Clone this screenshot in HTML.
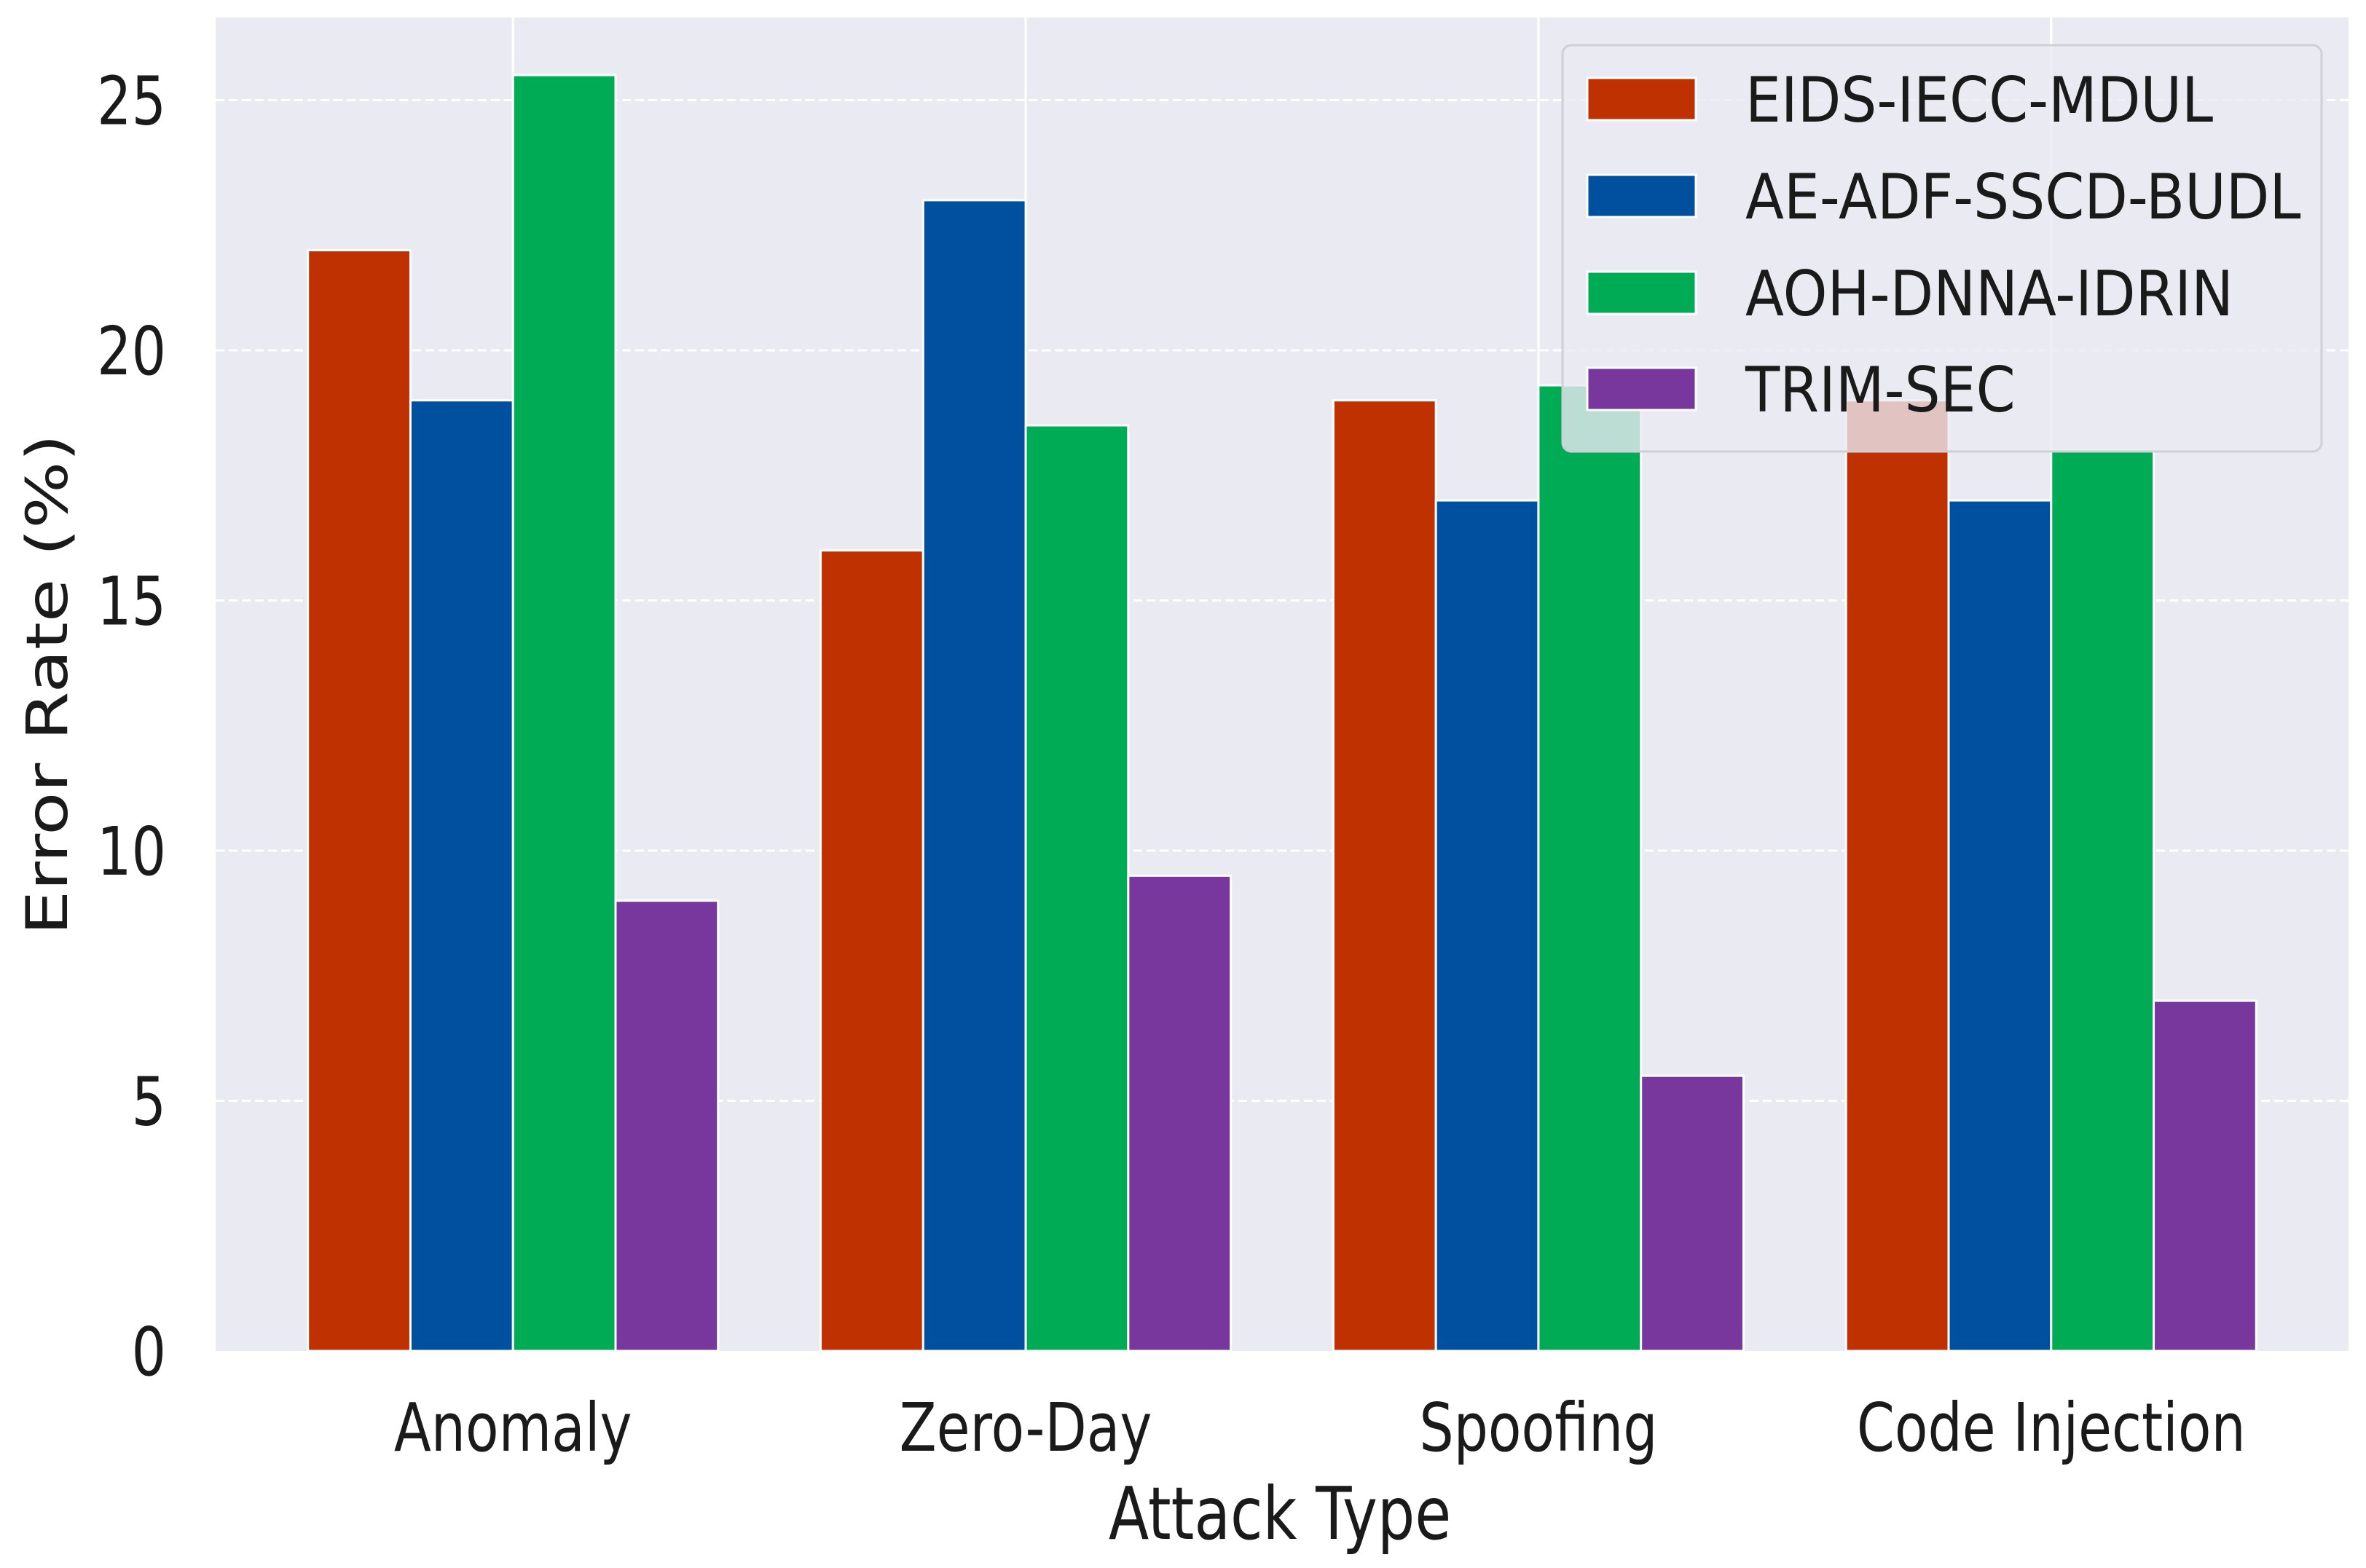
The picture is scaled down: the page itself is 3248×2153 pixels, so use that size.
<!DOCTYPE html>
<html><head><meta charset="utf-8"><style>
html,body{margin:0;padding:0;background:#fff;}
svg{display:block;}
text{font-family:"DejaVu Sans","Liberation Sans",sans-serif;fill:#1a1a1a;}
</style></head><body>
<svg id="chart" width="3248" height="2153" viewBox="0 0 3248 2153" xmlns="http://www.w3.org/2000/svg">
<rect x="296" y="24" width="2928" height="1831" fill="#eaeaf2"/>
<g id="grid"></g>
<g id="bars"></g>
<g id="ticks"></g>
<g id="legend"></g>
</svg>
<script>
const categories = ["Anomaly", "Zero-Day", "Spoofing", "Code Injection"];
const seriesNames = ["EIDS-IECC-MDUL", "AE-ADF-SSCD-BUDL", "AOH-DNNA-IDRIN", "TRIM-SEC"];
const eidsValues = [22, 16, 19, 19];
const aeValues = [19, 23, 17, 17];
const aohValues = [25.5, 18.5, 19.3, 18];
const trimValues = [9, 9.5, 5.5, 7];
const yTicks = [0, 5, 10, 15, 20, 25];
const colors = ["#bf3100", "#0050a0", "#00ab55", "#77379d"];
const allSeries = [eidsValues, aeValues, aohValues, trimValues];

const NS = "http://www.w3.org/2000/svg";
const X0 = 296, X1 = 3224, Y0 = 1855, PXU = 68.7;
const SX = 0.81;
const step = (X1 - X0) / (categories.length + 0.16);
function xCenter(i){ return X0 + step * (0.58 + i); }
function yPos(v){ return Y0 - v * PXU; }
function mk(tag, attrs, parent){ const e = document.createElementNS(NS, tag); for (const k in attrs) e.setAttribute(k, attrs[k]); parent.appendChild(e); return e; }
function txt(parent, s, x, y, size, anchor, rot, sx){
  const k = sx || SX;
  const g = mk("g", {transform: "translate(" + x + "," + y + ")" + (rot ? " rotate(" + rot + ")" : "") + (rot ? " scale(1," + k + ")" : " scale(" + k + ",1)")}, parent);
  const t = mk("text", {x: 0, y: 0, "font-size": size, "text-anchor": anchor}, g);
  t.textContent = s;
  return t;
}
const grid = document.getElementById("grid");
const bars = document.getElementById("bars");
const ticks = document.getElementById("ticks");
const legend = document.getElementById("legend");

yTicks.forEach(v => {
  if (v > 0) {
    const l = mk("line", {x1: X0, x2: X1, y1: yPos(v), y2: yPos(v), stroke: "#ffffff", "stroke-width": 3, "stroke-dasharray": "12,6"}, grid);
    
    
  }
  const t = txt(ticks, String(v), 228, yPos(v) + 33, 92, "end");
  
  
});
categories.forEach((c, i) => {
  const l = mk("line", {x1: xCenter(i), x2: xCenter(i), y1: 24, y2: Y0, stroke: "#ffffff", "stroke-width": 3}, grid);
  
  
  const t = txt(ticks, c, xCenter(i), 1992, 92, "middle");
  
  
});
const bw = step * 0.2;
allSeries.forEach((vals, s) => {
  vals.forEach((v, i) => {
    const x = xCenter(i) - step * 0.4 + s * bw;
    const r = mk("rect", {x: x, y: yPos(v), width: bw, height: Y0 - yPos(v), fill: colors[s], stroke: "#ffffff", "stroke-width": 3}, bars);
    
    
  });
});
const yl = txt(ticks, "Error Rate (%)", 92, 940, 97, "middle", -90);


const xl = txt(ticks, "Attack Type", 1757, 2113, 100, "middle");



const box = mk("rect", {x: 2145, y: 62, width: 1042, height: 558, rx: 12, fill: "#eaeaf2", "fill-opacity": 0.8, stroke: "#cfcfd6", "stroke-width": 3}, legend);


const rowY = [136, 269, 402, 534];
seriesNames.forEach((n, s) => {
  const sw = mk("rect", {x: 2179, y: rowY[s] - 29, width: 149, height: 58, fill: colors[s], stroke: "#ffffff", "stroke-width": 3}, legend);
  
  
  const t = txt(legend, n, 2396, rowY[s] + 31, 86, "start", 0, 0.9);
  
  
});
</script>
</body></html>
